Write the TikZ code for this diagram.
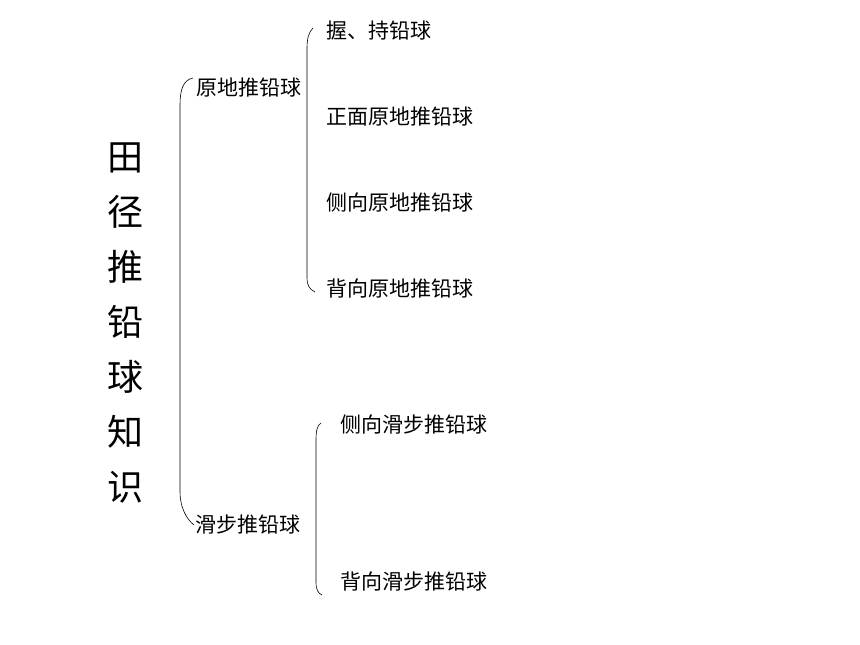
\documentclass[tikz,border=0pt]{standalone}
\usepackage{fontspec}
\newfontfamily\cjk{Noto Sans CJK SC}
\usepackage{tikz}

\begin{document}
\begin{tikzpicture}[x=1pt, y=-1pt]
    % Styles
    \tikzstyle{item} = [anchor=west, inner sep=0pt, font=\cjk\fontsize{21pt}{25pt}\selectfont]
    \tikzstyle{title} = [align=center, inner sep=0pt, font=\cjk\fontsize{36pt}{55pt}\selectfont]
    \tikzstyle{brace} = [draw=black, line width=0.6pt]
    \useasboundingbox (0,0) rectangle (860,645);

    % Title
    \node[title] (T) at (125, 323) {田\\径\\推\\铅\\球\\知\\识};

    % Nodes
    \node[item] (A) at (196, 88) {原地推铅球};
    \node[item] (B) at (195, 525) {滑步推铅球};
    \node[item] (A1) at (326, 31) {握、持铅球};
    \node[item] (A2) at (326, 117) {正面原地推铅球};
    \node[item] (A3) at (326, 203) {侧向原地推铅球};
    \node[item] (A4) at (326, 289) {背向原地推铅球};
    \node[item] (B1) at (340, 425) {侧向滑步推铅球};
    \node[item] (B2) at (340, 582) {背向滑步推铅球};

    % Brackets
    \draw[brace] (A.west) ++(-3,-10) .. controls (183,80) and (180,90) .. (180,105)
        -- (180,492) .. controls (180,505) and (185,518) .. ([xshift=-1pt]B.west);
    \draw[brace] (A1.west) ++(-13,-3) .. controls (309,32) and (307,38) .. (307,48)
        -- (307,278) .. controls (307,285) and (309,289) .. ([xshift=-11pt,yshift=-3pt]A4.west);
    \draw[brace] (B1.west) ++(-19,-2) .. controls (317,425) and (316,432) .. (316,440)
        -- (316,582) .. controls (316,590) and (318,593) .. ([xshift=-18pt,yshift=-13pt]B2.west);
\end{tikzpicture}
\end{document}
